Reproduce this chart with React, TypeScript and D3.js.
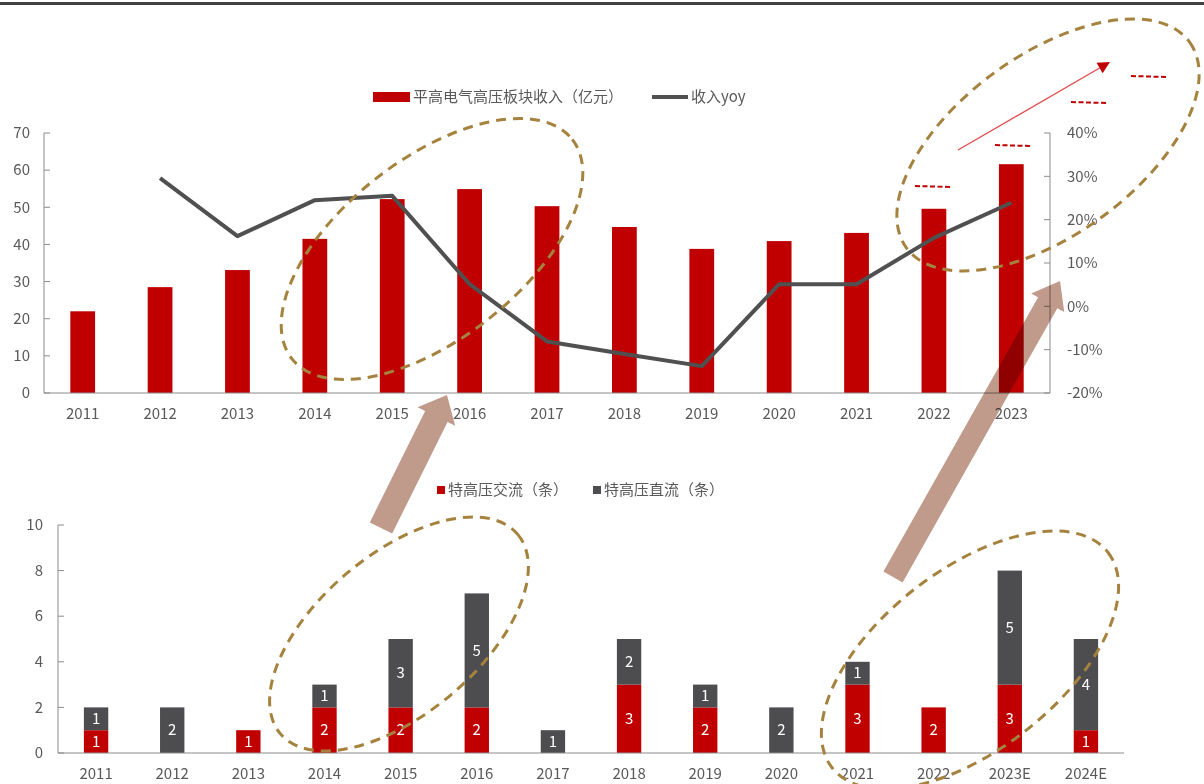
import React from 'react';
import * as d3 from 'd3';

const topYears = ['2011','2012','2013','2014','2015','2016','2017','2018','2019','2020','2021','2022','2023'];
const revenue = [22, 28.5, 33.1, 41.5, 52.2, 54.9, 50.3, 44.7, 38.8, 40.9, 43.1, 49.6, 61.6];
const yoy: (number | null)[] = [null, 29.6, 16.2, 24.5, 25.5, 5.1, -8.1, -11.0, -13.8, 5.1, 5.1, 15.8, 23.9];
const leftTicks = [0, 10, 20, 30, 40, 50, 60, 70];
const rightTicks = [-20, -10, 0, 10, 20, 30, 40];

const botYears = ['2011','2012','2013','2014','2015','2016','2017','2018','2019','2020','2021','2022','2023E','2024E'];
const acLines = [1, 0, 1, 2, 2, 2, 0, 3, 2, 0, 3, 2, 3, 1];
const dcLines = [1, 2, 0, 1, 3, 5, 1, 2, 1, 2, 1, 0, 5, 4];
const botTicks = [0, 2, 4, 6, 8, 10];

const RED = '#C00000';
const GRAY = '#4D4D4F';
const LINE = '#505050';
const AXIS = '#8C8C8C';
const TXT = '#595959';
const GOLD = '#A5823D';
const FONT = '"Microsoft YaHei","Noto Sans CJK SC","Noto Sans",sans-serif';
const FS = 15;

function arrowPoly(tx: number, ty: number, hx: number, hy: number, sh: number, hh: number, hl: number) {
  const dx = hx - tx, dy = hy - ty;
  const L = Math.hypot(dx, dy);
  const ux = dx / L, uy = dy / L;
  const nx = -uy, ny = ux;
  const bx = hx - ux * hl, by = hy - uy * hl;
  const pts = [
    [tx + nx * sh, ty + ny * sh],
    [bx + nx * sh, by + ny * sh],
    [bx + nx * hh, by + ny * hh],
    [hx, hy],
    [bx - nx * hh, by - ny * hh],
    [bx - nx * sh, by - ny * sh],
    [tx - nx * sh, ty - ny * sh],
  ];
  return pts.map(p => p.join(',')).join(' ');
}

export default function App() {
  const tL = 44, tR = 1050, tT = 133, tB = 393;
  const xT = d3.scaleBand<string>().domain(topYears).range([tL, tR]).paddingInner(0.68).paddingOuter(0.34);
  const yL = d3.scaleLinear().domain([0, 70]).range([tB, tT]);
  const yR = d3.scaleLinear().domain([-20, 40]).range([tB, tT]);
  const lineGen = d3.line<[string, number | null]>()
    .defined(d => d[1] !== null)
    .x(d => (xT(d[0]) as number) + xT.bandwidth() / 2)
    .y(d => yR(d[1] as number));
  const linePath = lineGen(topYears.map((y, i) => [y, yoy[i]] as [string, number | null])) || '';

  const bL = 58, bR = 1124, bT = 525, bB = 753;
  const xB = d3.scaleBand<string>().domain(botYears).range([bL, bR]).paddingInner(0.68).paddingOuter(0.34);
  const yB = d3.scaleLinear().domain([0, 10]).range([bB, bT]);
  const stackData = botYears.map((y, i) => ({ year: y, ac: acLines[i], dc: dcLines[i] }));
  const stack = d3.stack<any>().keys(['ac', 'dc'])(stackData);

  const rs = [958, 150], rt = [1110, 62];
  const rL = Math.hypot(rt[0] - rs[0], rt[1] - rs[1]);
  const ru = [(rt[0] - rs[0]) / rL, (rt[1] - rs[1]) / rL];
  const rn = [-ru[1], ru[0]];
  const rb = [rt[0] - ru[0] * 12, rt[1] - ru[1] * 12];
  const redHead = [[rt[0], rt[1]], [rb[0] + rn[0] * 6, rb[1] + rn[1] * 6], [rb[0] - rn[0] * 6, rb[1] - rn[1] * 6]]
    .map(p => p.join(',')).join(' ');

  const dashMarks = [
    [915, 186, 951, 187],
    [995, 145, 1030, 146],
    [1071, 102, 1106, 103],
    [1131, 76, 1166, 77],
  ];

  return (
    <svg width={1204} height={784} style={{ position: 'absolute', left: 0, top: 0, display: 'block', fontFamily: FONT }}>
      <rect x={0} y={0} width={1204} height={784} fill="#fff" />
      <rect x={0} y={2} width={1204} height={3} fill="#404040" />

      <rect x={373} y={92} width={37} height={10} fill={RED} />
      <text x={413} y={97} dy="0.35em" fontSize={FS} fill={TXT}>平高电气高压板块收入（亿元）</text>
      <line x1={652} x2={688} y1={97} y2={97} stroke={LINE} strokeWidth={4} />
      <text x={691} y={97} dy="0.35em" fontSize={FS} fill={TXT}>收入yoy</text>

      {topYears.map((y, i) => (
        <rect key={y} x={xT(y)} y={yL(revenue[i])} width={xT.bandwidth()} height={tB - yL(revenue[i])} fill={RED} />
      ))}
      <line x1={tL} x2={tL} y1={tT} y2={tB} stroke={AXIS} />
      <line x1={tR} x2={tR} y1={tT} y2={tB} stroke={AXIS} />
      <line x1={tL} x2={tR} y1={tB} y2={tB} stroke={AXIS} />
      {leftTicks.map(t => (
        <g key={'l' + t}>
          <line x1={tL} x2={tL + 6} y1={yL(t)} y2={yL(t)} stroke={AXIS} />
          <text x={30} y={yL(t)} dy="0.35em" textAnchor="end" fontSize={FS} fill={TXT}>{t}</text>
        </g>
      ))}
      {rightTicks.map(t => (
        <g key={'r' + t}>
          <line x1={tR - 6} x2={tR} y1={yR(t)} y2={yR(t)} stroke={AXIS} />
          <text x={1067} y={yR(t)} dy="0.35em" textAnchor="start" fontSize={FS} fill={TXT}>{t + '%'}</text>
        </g>
      ))}
      {topYears.map(y => (
        <text key={'tx' + y} x={(xT(y) as number) + xT.bandwidth() / 2} y={414} dy="0.35em" textAnchor="middle" fontSize={FS} fill={TXT}>{y}</text>
      ))}
      <path d={linePath} fill="none" stroke={LINE} strokeWidth={4} strokeLinejoin="round" />

      <rect x={437} y={486} width={8} height={8} fill={RED} />
      <text x={448} y={490} dy="0.35em" fontSize={FS} fill={TXT}>特高压交流（条）</text>
      <rect x={593} y={486} width={8} height={8} fill={GRAY} />
      <text x={604} y={490} dy="0.35em" fontSize={FS} fill={TXT}>特高压直流（条）</text>

      {stack.map((s, si) => (
        <g key={'s' + si}>
          {s.map((d: any, i: number) => {
            const v = d[1] - d[0];
            if (v <= 0) return null;
            const x = xB(botYears[i]) as number;
            const y0 = yB(d[0]), y1 = yB(d[1]);
            return (
              <g key={i}>
                <rect x={x} y={y1} width={xB.bandwidth()} height={y0 - y1} fill={si === 0 ? RED : GRAY} />
                <text x={x + xB.bandwidth() / 2} y={(y0 + y1) / 2} dy="0.35em" textAnchor="middle" fontSize={FS} fill="#fff">{v}</text>
              </g>
            );
          })}
        </g>
      ))}
      <line x1={bL} x2={bL} y1={bT} y2={bB} stroke={AXIS} />
      <line x1={bL} x2={bR} y1={bB} y2={bB} stroke={AXIS} />
      {botTicks.map(t => (
        <g key={'b' + t}>
          <line x1={bL} x2={bL + 6} y1={yB(t)} y2={yB(t)} stroke={AXIS} />
          <text x={43} y={yB(t)} dy="0.35em" textAnchor="end" fontSize={FS} fill={TXT}>{t}</text>
        </g>
      ))}
      {botYears.map(y => (
        <text key={'bx' + y} x={(xB(y) as number) + xB.bandwidth() / 2} y={774} dy="0.35em" textAnchor="middle" fontSize={FS} fill={TXT}>{y}</text>
      ))}

      <polygon points={arrowPoly(381, 528, 447, 395, 12.5, 21, 24)} fill="#C09A8A" style={{ mixBlendMode: 'multiply' }} />
      <polygon points={arrowPoly(893, 577, 1060, 281, 11, 19, 25)} fill="#C09A8A" style={{ mixBlendMode: 'multiply' }} />

      <g fill="none" stroke={GOLD} strokeWidth={3} strokeDasharray="10 7">
        <ellipse cx={432} cy={249} rx={178} ry={90} transform="rotate(-38 432 249)" />
        <ellipse cx={1048} cy={145} rx={175} ry={90} transform="rotate(-36 1048 145)" />
        <ellipse cx={399} cy={634} rx={155} ry={80} transform="rotate(-40 399 634)" />
        <ellipse cx={970} cy={660} rx={175} ry={90} transform="rotate(-38 970 660)" />
      </g>

      <line x1={rs[0]} y1={rs[1]} x2={rb[0]} y2={rb[1]} stroke="#E04848" strokeWidth={1.3} />
      <polygon points={redHead} fill={RED} />
      {dashMarks.map((m, i) => (
        <line key={'dm' + i} x1={m[0]} y1={m[1]} x2={m[2]} y2={m[3]} stroke={RED} strokeWidth={2} strokeDasharray="5 2.5" />
      ))}
    </svg>
  );
}
